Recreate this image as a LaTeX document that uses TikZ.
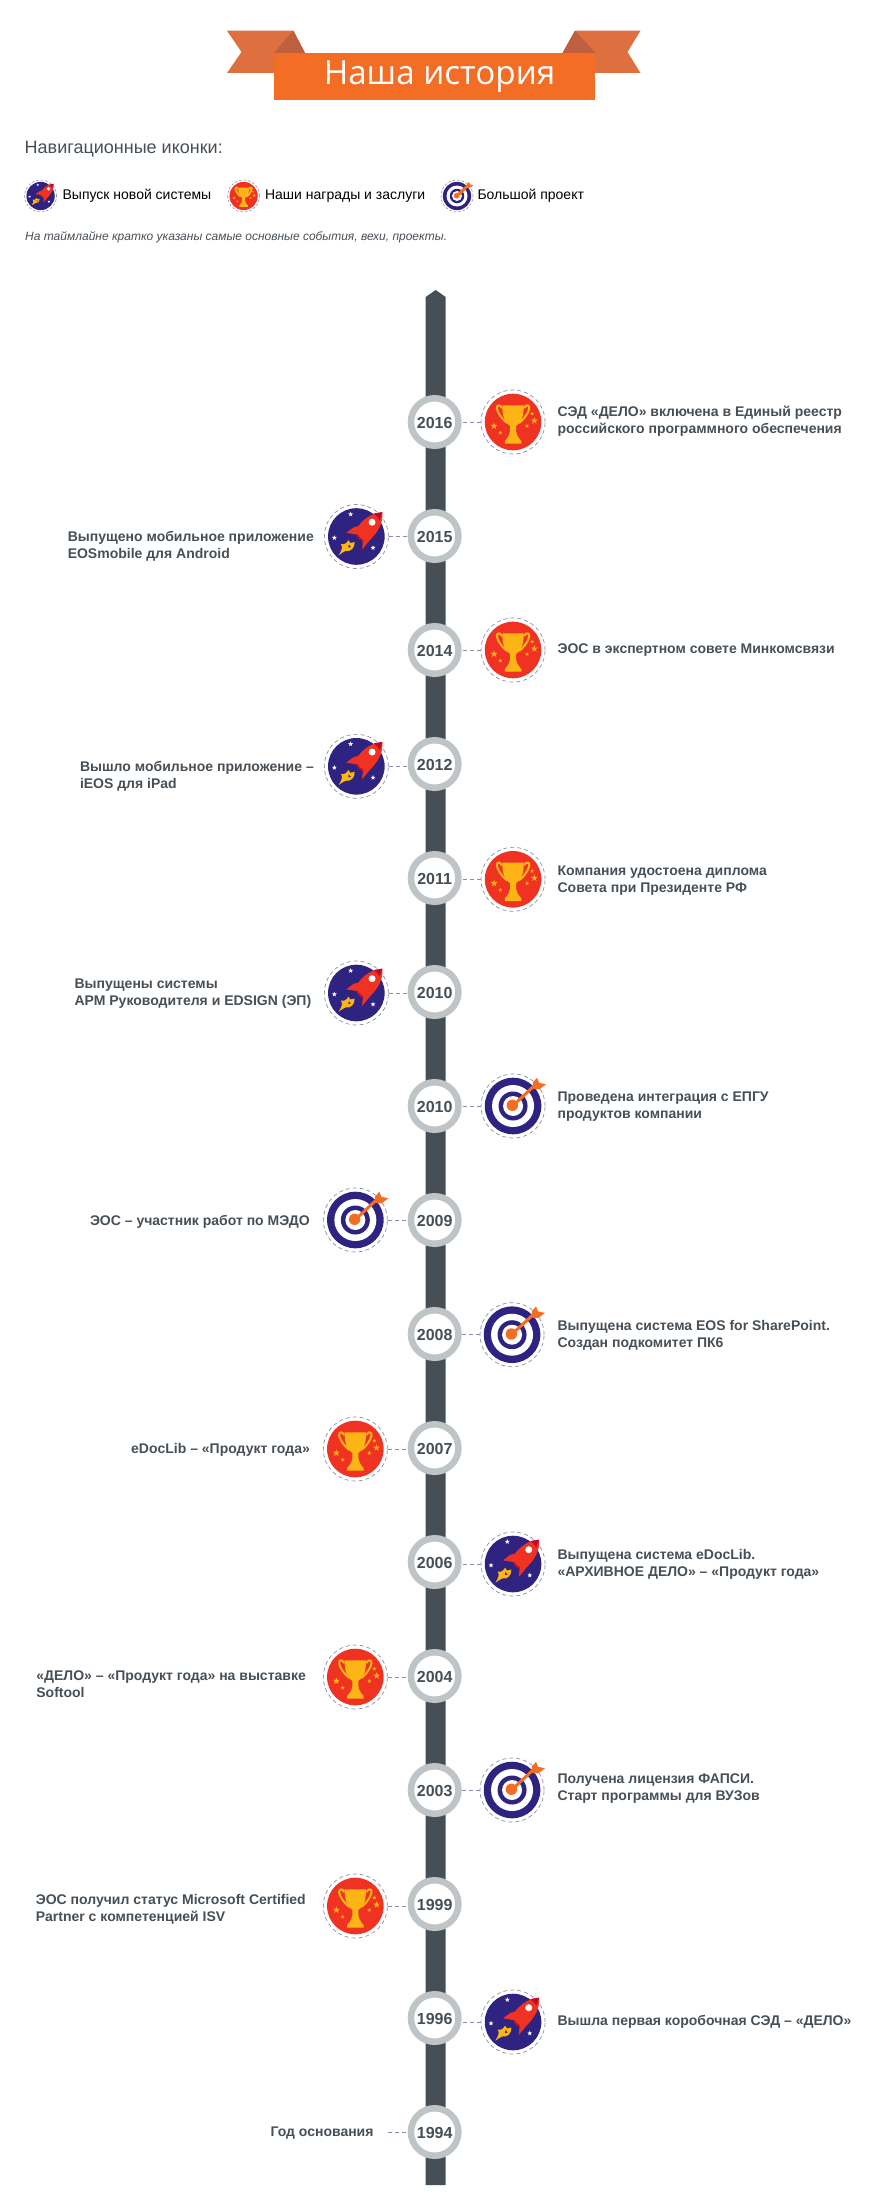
\documentclass[tikz,border=0pt]{standalone}
\usepackage{fontspec}
\setmainfont{Liberation Sans}
\newfontfamily\titlefont{Open Sans}
\usetikzlibrary{positioning}

\definecolor{barcol}{HTML}{474F56}
\definecolor{ringcol}{HTML}{BFC4C7}
\definecolor{bannercol}{HTML}{F46D25}
\definecolor{tailcol}{HTML}{DE7040}
\definecolor{foldcol}{HTML}{BE5F3F}
\definecolor{navycol}{HTML}{2E2380}
\definecolor{redcol}{HTML}{F03223}
\definecolor{goldcol}{HTML}{FDB515}
\definecolor{dashcol}{HTML}{8A8DA8}

% small five pointed star: x, y, radius, colour
\newcommand{\iconstar}[4]{
  \fill[#4, shift={(#1,#2)}] (-90:#3) -- (-54:.4*#3) -- (-18:#3) -- (18:.4*#3) -- (54:#3)
    -- (90:.4*#3) -- (126:#3) -- (162:.4*#3) -- (198:#3) -- (234:.4*#3) -- cycle;
}

\tikzset{
  pics/rocketicon/.style={code={
    \fill[navycol] (0,0) circle (28.3);
    \iconstar{-5.7}{-22.3}{2.6}{white}
    \iconstar{-22}{1.3}{2.6}{white}
    \iconstar{16.7}{11.3}{2.6}{white}
    % flame
    \fill[goldcol] (-17.7,18.7) .. controls (-15,14) and (-13,11) .. (-15.5,7.5) .. controls (-12,8.5) and (-10,7) .. (-8,3.7)
      -- (-6,6.5) -- (-1.7,5.5) .. controls (-1.5,11) and (-5,15.5) .. (-11,14.5) .. controls (-13,15.5) and (-15.5,17) .. cycle;
    \fill[navycol] (-8,11) -- (-7.5,8) -- (-5.5,10.5) -- cycle;
    % body and fins
    \fill[redcol] (26,-24.3) .. controls (27,-14) and (22,-5) .. (14,3) -- (5.7,13) -- (6.5,5) .. controls (3,3) and (1,1) .. (0,-2)
      -- (-10,-3.7) -- (-3,-9) -- (2,-10.5) .. controls (8,-19) and (18,-24) .. cycle;
    \fill[red!70!navycol] (0,-2) .. controls (1,1) and (3,3) .. (6.5,5) -- (7,3.5) .. controls (4,2) and (2,0) .. (1,-2.5) -- cycle;
    \fill[red!70!navycol] (26,-24.3) -- (17.3,-23) .. controls (20,-21) and (22,-19) .. (23.3,-16.5) -- cycle;
    \fill[white] (15.7,-14.3) circle (3.5);
  }},
  pics/trophyicon/.style={code={
    \fill[redcol] (0,0) circle (28.3);
    % handles
    \draw[goldcol, line width=2] (-11,-14) .. controls (-15,-20) and (-18,-15) .. (-15,-10) .. controls (-13,-6) and (-10,-2) .. (-6,1);
    \draw[goldcol, line width=2] (11,-14) .. controls (15,-20) and (18,-15) .. (15,-10) .. controls (13,-6) and (10,-2) .. (6,1);
    % cup
    \fill[goldcol] (-10.7,-16.7) -- (10.7,-16.7) .. controls (11,-6) and (8,1) .. (3,4) .. controls (2,11) and (5,16) .. (8.3,19)
      -- (8.3,21.7) -- (-8.3,21.7) -- (-8.3,19) .. controls (-5,16) and (-2,11) .. (-3,4) .. controls (-8,1) and (-11,-6) .. cycle;
    \iconstar{-19}{4}{3.6}{goldcol}
    \iconstar{-12.7}{10.7}{2.2}{goldcol}
    \iconstar{14}{4}{2.2}{goldcol}
    \iconstar{19}{-8.3}{2.2}{goldcol}
    \iconstar{21.3}{-1.3}{3.6}{goldcol}
  }},
  pics/targeticon/.style={code={
    \fill[navycol] (0,0) circle (28.3);
    \fill[white] (0,0) circle (21);
    \fill[navycol] (0,0) circle (14.5);
    \fill[white] (0,0) circle (10);
    \fill[bannercol] (-.7,-.7) circle (5.7);
    % arrow
    \draw[bannercol, line width=3] (0,-.5) -- (22,-21);
    \fill[bannercol] (19.7,-23.3) -- (24,-28.3) -- (26,-23.3) -- (33,-21.7) -- (26.3,-16.7) -- (20,-17) -- cycle;
  }}
}

\begin{document}
\begin{tikzpicture}[
        x=1pt, y=-1pt,
        node distance=60pt and 19pt,
        year/.style={circle, draw=ringcol, line width=6.5pt, fill=white, minimum size=47.5pt, inner sep=0pt,
          font=\fontsize{16}{16}\selectfont\bfseries, text=barcol, text height=13.5pt},
        iconring/.style={circle, draw=dashcol, line width=.7pt, dash pattern=on 4pt off 3pt, minimum size=64pt, inner sep=0pt},
        keyring/.style={circle, draw=dashcol, line width=.6pt, dash pattern=on 2.5pt off 2pt, minimum size=32pt, inner sep=0pt},
        event/.style={font=\fontsize{14}{17}\selectfont\bfseries, text=barcol, align=left, inner sep=0pt},
        keytext/.style={font=\fontsize{14}{17}\selectfont, inner sep=0pt},
        link/.style={draw=dashcol, line width=.7pt, dash pattern=on 4pt off 3pt}
    ]
    \useasboundingbox (0,0) rectangle (880,2200);

    % Banner
    \fill[tailcol] (227,30.7) -- (293.4,30.7) -- (305,53) -- (273.7,73) -- (227,73) -- (241.5,52) -- cycle;
    \fill[tailcol] (640.5,30.7) -- (575,30.7) -- (562.5,53) -- (595.5,73) -- (640.5,73) -- (627.5,52) -- cycle;
    \fill[foldcol] (293.4,30.7) -- (273.7,53) -- (305,53) -- cycle;
    \fill[foldcol] (575,30.7) -- (562.5,53) -- (595.5,53) -- cycle;
    \node (title) [fill=bannercol, text=white, minimum width=321pt, minimum height=47pt, inner sep=0pt,
      font=\titlefont\fontsize{33.2}{34}\selectfont] at (434.5,76.5) {\hspace*{10pt}\raisebox{-1.4pt}{Наша история}};

    % Legend
    \node (keyhead) [anchor=west, inner sep=0pt, text=barcol, font=\fontsize{18}{18}\selectfont] at (24.5,149) {Навигационные иконки:};
    \node (keyrocket) [keyring] at (40.6,196) {};
    \node (keytext1) [keytext, right=5.5pt of keyrocket] {Выпуск новой системы};
    \node (keytrophy) [keyring] at (243.6,196) {};
    \node (keytext2) [keytext, right=5pt of keytrophy] {Наши награды и заслуги};
    \node (keytarget) [keyring] at (457,196) {};
    \node (keytext3) [keytext, right=4pt of keytarget] {Большой проект};
    \pic[scale=.5] at (keyrocket) {rocketicon};
    \pic[scale=.5] at (keytrophy) {trophyicon};
    \pic[scale=.5] at (keytarget) {targeticon};
    \node (keynote) [anchor=west, inner sep=0pt, text=barcol, font=\fontsize{12}{12}\selectfont\itshape] at (25,237) {На таймлайне кратко указаны самые основные события, вехи, проекты.};

    % Timeline bar
    \fill[barcol] (425.7,2185) -- (425.7,297) -- (435.7,290) -- (445.7,297) -- (445.7,2185) -- cycle;

    % Years
    \node (y2016) [year] at (434.7,422) {2016};
    \node (y2015) [year, below=of y2016] {2015};
    \node (y2014) [year, below=of y2015] {2014};
    \node (y2012) [year, below=of y2014] {2012};
    \node (y2011) [year, below=of y2012] {2011};
    \node (y2010a) [year, below=of y2011] {2010};
    \node (y2010b) [year, below=of y2010a] {2010};
    \node (y2009) [year, below=of y2010b] {2009};
    \node (y2008) [year, below=of y2009] {2008};
    \node (y2007) [year, below=of y2008] {2007};
    \node (y2006) [year, below=of y2007] {2006};
    \node (y2004) [year, below=of y2006] {2004};
    \node (y2003) [year, below=of y2004] {2003};
    \node (y1999) [year, below=of y2003] {1999};
    \node (y1996) [year, below=of y1999] {1996};
    \node (y1994) [year, below=of y1996] {1994};

    % Icon rings
    \node (i2016) [iconring, right=of y2016] {};
    \node (i2015) [iconring, left=of y2015, yshift=-.5pt] {};
    \node (i2014) [iconring, right=of y2014] {};
    \node (i2012) [iconring, left=of y2012, yshift=-2.3pt] {};
    \node (i2011) [iconring, right=of y2011, yshift=-1.3pt] {};
    \node (i2010a) [iconring, left=of y2010a, yshift=-1pt] {};
    \node (i2010b) [iconring, right=of y2010b] {};
    \node (i2009) [iconring, left=of y2009, xshift=-1pt] {};
    \node (i2008) [iconring, right=of y2008, xshift=-1pt, yshift=-.7pt] {};
    \node (i2007) [iconring, left=of y2007, xshift=-1pt, yshift=-1pt] {};
    \node (i2006) [iconring, right=of y2006, yshift=-2pt] {};
    \node (i2004) [iconring, left=of y2004, xshift=-1pt, yshift=-1pt] {};
    \node (i2003) [iconring, right=of y2003, xshift=-1pt] {};
    \node (i1999) [iconring, left=of y1999, xshift=-1pt, yshift=-2pt] {};
    \node (i1996) [iconring, right=of y1996, yshift=-4pt] {};

    % Icons
    \pic at (i2016) {trophyicon};
    \pic at (i2015) {rocketicon};
    \pic at (i2014) {trophyicon};
    \pic at (i2012) {rocketicon};
    \pic at (i2011) {trophyicon};
    \pic at (i2010a) {rocketicon};
    \pic at (i2010b) {targeticon};
    \pic at (i2009) {targeticon};
    \pic at (i2008) {targeticon};
    \pic at (i2007) {trophyicon};
    \pic at (i2006) {rocketicon};
    \pic at (i2004) {trophyicon};
    \pic at (i2003) {targeticon};
    \pic at (i1999) {trophyicon};
    \pic at (i1996) {rocketicon};

    % Texts
    \node (t2016) [event, right=12pt of i2016, yshift=.5pt] {СЭД «ДЕЛО» включена в Единый реестр\\российского программного обеспечения};
    \node (t2015) [event, left=10pt of i2015, yshift=-9.5pt] {Выпущено мобильное приложение\\EOSmobile для Android};
    \node (t2014) [event, right=12pt of i2014] {ЭОС в экспертном совете Минкомсвязи};
    \node (t2012) [event, left=10pt of i2012, yshift=-10pt] {Вышло мобильное приложение –\\iEOS для iPad};
    \node (t2011) [event, right=12pt of i2011, yshift=-1.5pt] {Компания удостоена диплома\\Совета при Президенте РФ};
    \node (t2010a) [event, left=12.6pt of i2010a, yshift=-1pt] {Выпущены системы\\АРМ Руководителя и EDSIGN (ЭП)};
    \node (t2010b) [event, right=12pt of i2010b, yshift=-.5pt] {Проведена интеграция с ЕПГУ\\продуктов компании};
    \node (t2009) [event, left=13pt of i2009, yshift=-1.4pt] {ЭОС – участник работ по МЭДО};
    \node (t2008) [event, right=13pt of i2008, yshift=-.7pt] {Выпущена система EOS for SharePoint.\\Создан подкомитет ПК6};
    \node (t2007) [event, left=13pt of i2007, yshift=-.4pt] {eDocLib – «Продукт года»};
    \node (t2006) [event, right=12pt of i2006, yshift=-.8pt] {Выпущена система eDocLib.\\«АРХИВНОЕ ДЕЛО» – «Продукт года»};
    \node (t2004) [event, left=17pt of i2004, yshift=-7pt] {«ДЕЛО» – «Продукт года» на выставке\\Softool};
    \node (t2003) [event, right=13pt of i2003, yshift=1.4pt] {Получена лицензия ФАПСИ.\\Старт программы для ВУЗов};
    \node (t1999) [event, left=17pt of i1999, yshift=-3pt] {ЭОС получил статус Microsoft Certified\\Partner с компетенцией ISV};
    \node (t1996) [event, right=12pt of i1996] {Вышла первая коробочная СЭД – «ДЕЛО»};
    \node (t1994) [event, left=34pt of y1994, yshift=-1.4pt] {Год основания};

    % Dashed links
    \path[link] (i2016) -- (i2016 -| y2016.east);
    \path[link] (i2015) -- (i2015 -| y2015.west);
    \path[link] (i2014) -- (i2014 -| y2014.east);
    \path[link] (i2012) -- (i2012 -| y2012.west);
    \path[link] (i2011) -- (i2011 -| y2011.east);
    \path[link] (i2010a) -- (i2010a -| y2010a.west);
    \path[link] (i2010b) -- (i2010b -| y2010b.east);
    \path[link] (i2009) -- (i2009 -| y2009.west);
    \path[link] (i2008) -- (i2008 -| y2008.east);
    \path[link] (i2007) -- (i2007 -| y2007.west);
    \path[link] (i2006) -- (i2006 -| y2006.east);
    \path[link] (i2004) -- (i2004 -| y2004.west);
    \path[link] (i2003) -- (i2003 -| y2003.east);
    \path[link] (i1999) -- (i1999 -| y1999.west);
    \path[link] (i1996) -- (i1996 -| y1996.east);
    \path[link, shorten <=14pt] (t1994.east |- y1994) -- (y1994);

\end{tikzpicture}
\end{document}
